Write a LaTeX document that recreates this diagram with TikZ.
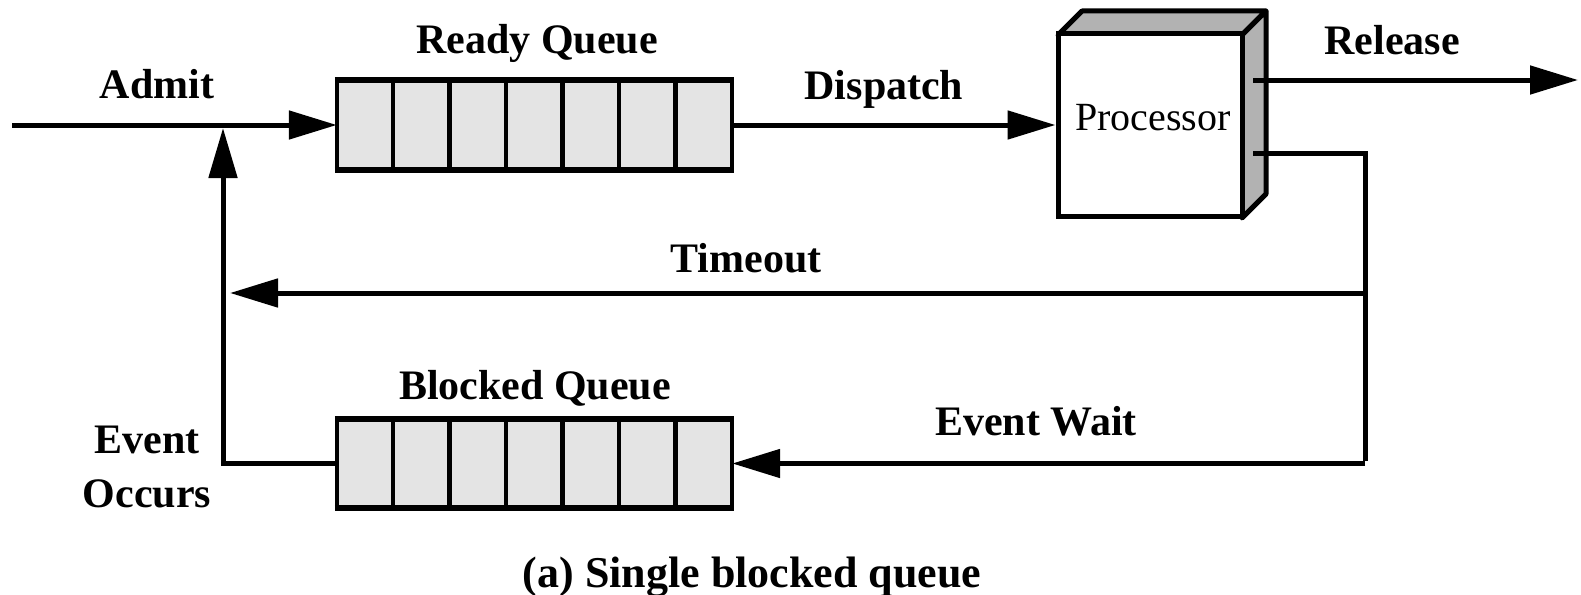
\documentclass[tikz,border=0pt]{standalone}
\usepackage{fontspec}
\setmainfont{Liberation Serif}
\usetikzlibrary{arrows.meta}
\definecolor{qfill}{HTML}{E4E4E4}
\definecolor{sidegray}{HTML}{B2B2B2}
\tikzset{
  lbl/.style={font=\fontsize{42}{48}\selectfont\bfseries, anchor=base, inner sep=0pt},
  conn/.style={line width=5pt, line cap=butt},
  arr/.style={conn, -{Triangle[length=48pt,width=28pt]}},
  queuebox/.style={fill=qfill, draw=none, minimum width=395pt, minimum height=89pt, inner sep=0pt},
  qline/.style={line width=4.5pt},
}
\begin{document}
\begin{tikzpicture}[x=1pt,y=-1pt]
\useasboundingbox (0,0) rectangle (1581,594);
% ready queue
\node[queuebox] (rq) at (534.5,125) {};
\foreach \i in {1,...,6} \draw[qline] ([xshift=\i*56.43pt]rq.north west) -- ([xshift=\i*56.43pt]rq.south west);
\draw[qline] (rq.north west) -- (rq.south west);
\draw[qline] (rq.north east) -- (rq.south east);
\draw[line width=6pt] ([xshift=-2pt]rq.north west) -- ([xshift=2pt]rq.north east);
\draw[line width=6pt] ([xshift=-2pt]rq.south west) -- ([xshift=2pt]rq.south east);
% blocked queue
\node[queuebox] (bq) at (534.5,463.5) {};
\foreach \i in {1,...,6} \draw[qline] ([xshift=\i*56.43pt]bq.north west) -- ([xshift=\i*56.43pt]bq.south west);
\draw[qline] (bq.north west) -- (bq.south west);
\draw[qline] (bq.north east) -- (bq.south east);
\draw[line width=6pt] ([xshift=-2pt]bq.north west) -- ([xshift=2pt]bq.north east);
\draw[line width=6pt] ([xshift=-2pt]bq.south west) -- ([xshift=2pt]bq.south east);
% processor
\draw[line width=5pt, fill=sidegray, line join=round] (1058,35) -- (1082,11) -- (1266,11) -- (1242,35) -- cycle;
\draw[line width=5pt, fill=sidegray, line join=round] (1242,35) -- (1266,11) -- (1266,194) -- (1242,218) -- cycle;
\node[draw, line width=5pt, fill=white, minimum width=184pt, minimum height=183pt, inner sep=0pt] (proc) at (1150,125) {};
\node[anchor=base, inner sep=0pt, font=\fontsize{40}{46}\selectfont] (proclbl) at (1153,130) {Processor};
% coordinates
\coordinate (adm0) at (12,125);
\coordinate (adm1) at (223,128);
\coordinate (pr1) at (1253,80);
\coordinate (rel) at (1578,80);
\coordinate (pr2) at (1253,153);
\coordinate (c1) at (1365,153);
\coordinate (c2) at (1365,293);
\coordinate (c3) at (1365,463.5);
\coordinate (tmo) at (230,293);
\coordinate (ev) at (223,463.5);
% connectors
\draw[arr] (adm0) -- (rq.west);
\draw[arr] (rq.east) -- (proc.west);
\draw[arr] (pr1) -- (rel);
\draw[conn, line join=miter] (pr2) -- (c1) -- ([yshift=2.5pt]c3);
\draw[arr] (c2) -- (tmo);
\draw[arr] (c3) -- (bq.east);
\draw[conn, line join=miter, -{Triangle[length=50pt,width=28pt]}] (bq.west) -- (ev) -- (adm1);
% labels
\node[lbl] (ladmit) at (157,98) {Admit};
\node[lbl] (lready) at (537,53) {Ready Queue};
\node[lbl] (ldisp) at (884,99) {Dispatch};
\node[lbl] (lrel) at (1392,55) {Release};
\node[lbl] (ltime) at (746,272) {Timeout};
\node[lbl] (lblock) at (535,399) {Blocked Queue};
\node[lbl] (lwait) at (1036,435) {Event Wait};
\node[lbl] (levent) at (147,453) {Event};
\node[lbl] (loccurs) at (147,507) {Occurs};
\node[lbl, font=\fontsize{44}{50}\selectfont\bfseries] (cap) at (752,587) {(a) Single blocked queue};
\end{tikzpicture}
\end{document}
